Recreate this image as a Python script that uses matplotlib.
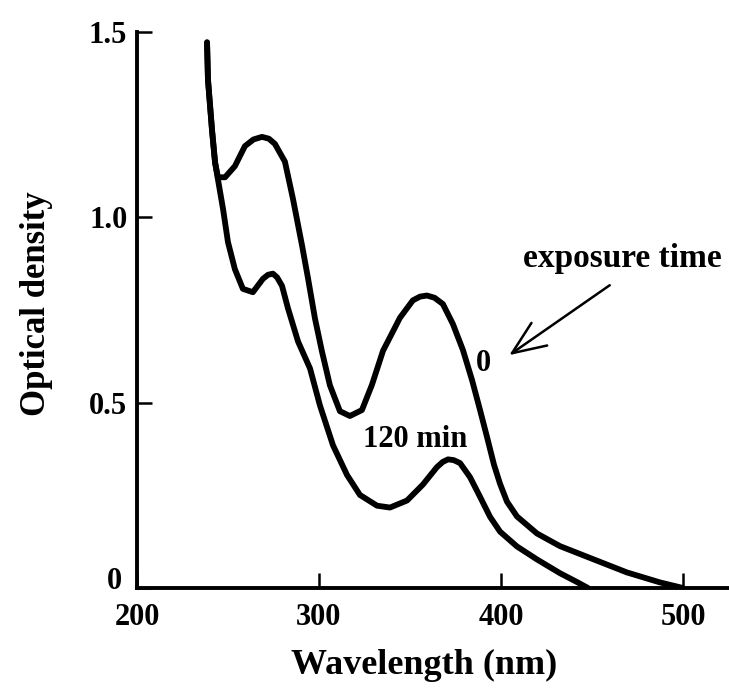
import matplotlib.pyplot as plt
import matplotlib.transforms as mtransforms

# Spectre d'absorption : temps d'exposition 0 et 120 min
wl_0 = [238.5, 239.0, 241.2, 242.9, 244.5, 248.4, 253.8, 259.3, 264.0, 268.7, 272.5,
        275.8, 281.3, 285.7, 290.7, 294.0, 297.8, 301.6, 306.0, 311.5, 317.0, 323.6,
        329.1, 335.2, 344.5, 351.6, 355.5, 359.3, 363.5, 368.1, 373.6, 379.1, 384.1,
        388.5, 392.3, 396.2, 399.5, 403.3, 408.8, 419.8, 432.4, 450.5, 469.2, 487.4,
        500.0]
od_0 = [1.472, 1.372, 1.237, 1.148, 1.108, 1.108, 1.138, 1.192, 1.210, 1.217, 1.212,
        1.198, 1.150, 1.050, 0.924, 0.835, 0.727, 0.639, 0.547, 0.477, 0.464, 0.480,
        0.548, 0.640, 0.729, 0.776, 0.786, 0.789, 0.783, 0.766, 0.712, 0.642, 0.561,
        0.480, 0.408, 0.332, 0.281, 0.233, 0.193, 0.147, 0.113, 0.078, 0.042, 0.015,
        0.0]

wl_120 = [238.5, 239.0, 241.2, 242.9, 244.5, 247.3, 250.0, 253.8, 258.2, 263.7,
          269.2, 272.0, 274.7, 277.0, 279.7, 283.0, 288.5, 295.1, 300.5, 307.7, 315.4,
          322.5, 331.9, 339.0, 348.4, 357.1, 364.8, 368.0, 370.9, 374.0, 377.5, 383.0,
          388.5, 394.0, 399.5, 408.8, 419.8, 432.4, 441.8, 447.8]
od_120 = [1.472, 1.372, 1.237, 1.148, 1.102, 1.022, 0.933, 0.860, 0.807, 0.798,
          0.834, 0.845, 0.848, 0.838, 0.815, 0.754, 0.665, 0.592, 0.493, 0.385, 0.305,
          0.251, 0.222, 0.217, 0.236, 0.279, 0.326, 0.340, 0.347, 0.345, 0.337, 0.299,
          0.246, 0.192, 0.152, 0.112, 0.077, 0.040, 0.016, 0.0]

xticks = [200, 300, 400, 500]
yticks = [0, 0.5, 1.0, 1.5]
yticklabels = ['0', '0.5', '1.0', '1.5']

plt.rcParams['font.family'] = ['Liberation Serif', 'DejaVu Serif']

fig = plt.figure(figsize=(7.29, 6.92), dpi=100)
ax = fig.add_axes([0.1879, 0.1503, 0.8121, 0.8035])

ax.plot(wl_0, od_0, color='black', lw=4.2, solid_capstyle='round',
        solid_joinstyle='round')
ax.plot(wl_120, od_120, color='black', lw=4.2, solid_capstyle='round',
        solid_joinstyle='round')

ax.set_xlim(200, 525.3)
ax.set_ylim(0, 1.5)
ax.spines['top'].set_visible(False)
ax.spines['right'].set_visible(False)
ax.spines['left'].set_linewidth(2.8)
ax.spines['bottom'].set_linewidth(2.8)

ax.set_xticks(xticks)
ax.set_xticklabels([str(v) for v in xticks])
ax.set_yticks(yticks)
ax.set_yticklabels(yticklabels)
ax.tick_params(axis='both', direction='in', length=11, width=1.8, labelsize=22)
ax.tick_params(axis='x', pad=11)
ax.tick_params(axis='y', pad=7)
for lab in ax.get_xticklabels() + ax.get_yticklabels():
    lab.set_fontweight('bold')

# le "0" de l'axe y est un peu plus haut et à gauche dans l'original
zero_lab = ax.get_yticklabels()[0]
zero_lab.set_transform(zero_lab.get_transform() +
                       mtransforms.ScaledTranslation(-4 / 72, 7 / 72, fig.dpi_scale_trans))

fig.text(424 / 729, 1 - 665 / 692, 'Wavelength (nm)', fontsize=26,
         fontweight='bold', ha='center', va='center')
fig.text(37 / 729, 1 - 304 / 692, 'Optical density', fontsize=25,
         fontweight='bold', ha='center', va='center', rotation=90)

ax.text(390.1, 0.605, '0', fontsize=22, fontweight='bold', ha='center', va='center')
ax.text(352.7, 0.401, '120 min', fontsize=22, fontweight='bold',
        ha='center', va='center')
ax.annotate('', xy=(403.3, 0.624), xytext=(461.0, 0.821),
            arrowprops=dict(arrowstyle='->,head_length=0.8,head_width=0.33',
                            lw=1.8, color='black', mutation_scale=30))
ax.text(466.5, 0.889, 'exposure time', fontsize=24, fontweight='bold',
        ha='center', va='center')

fig.savefig('out.png', dpi=100)
